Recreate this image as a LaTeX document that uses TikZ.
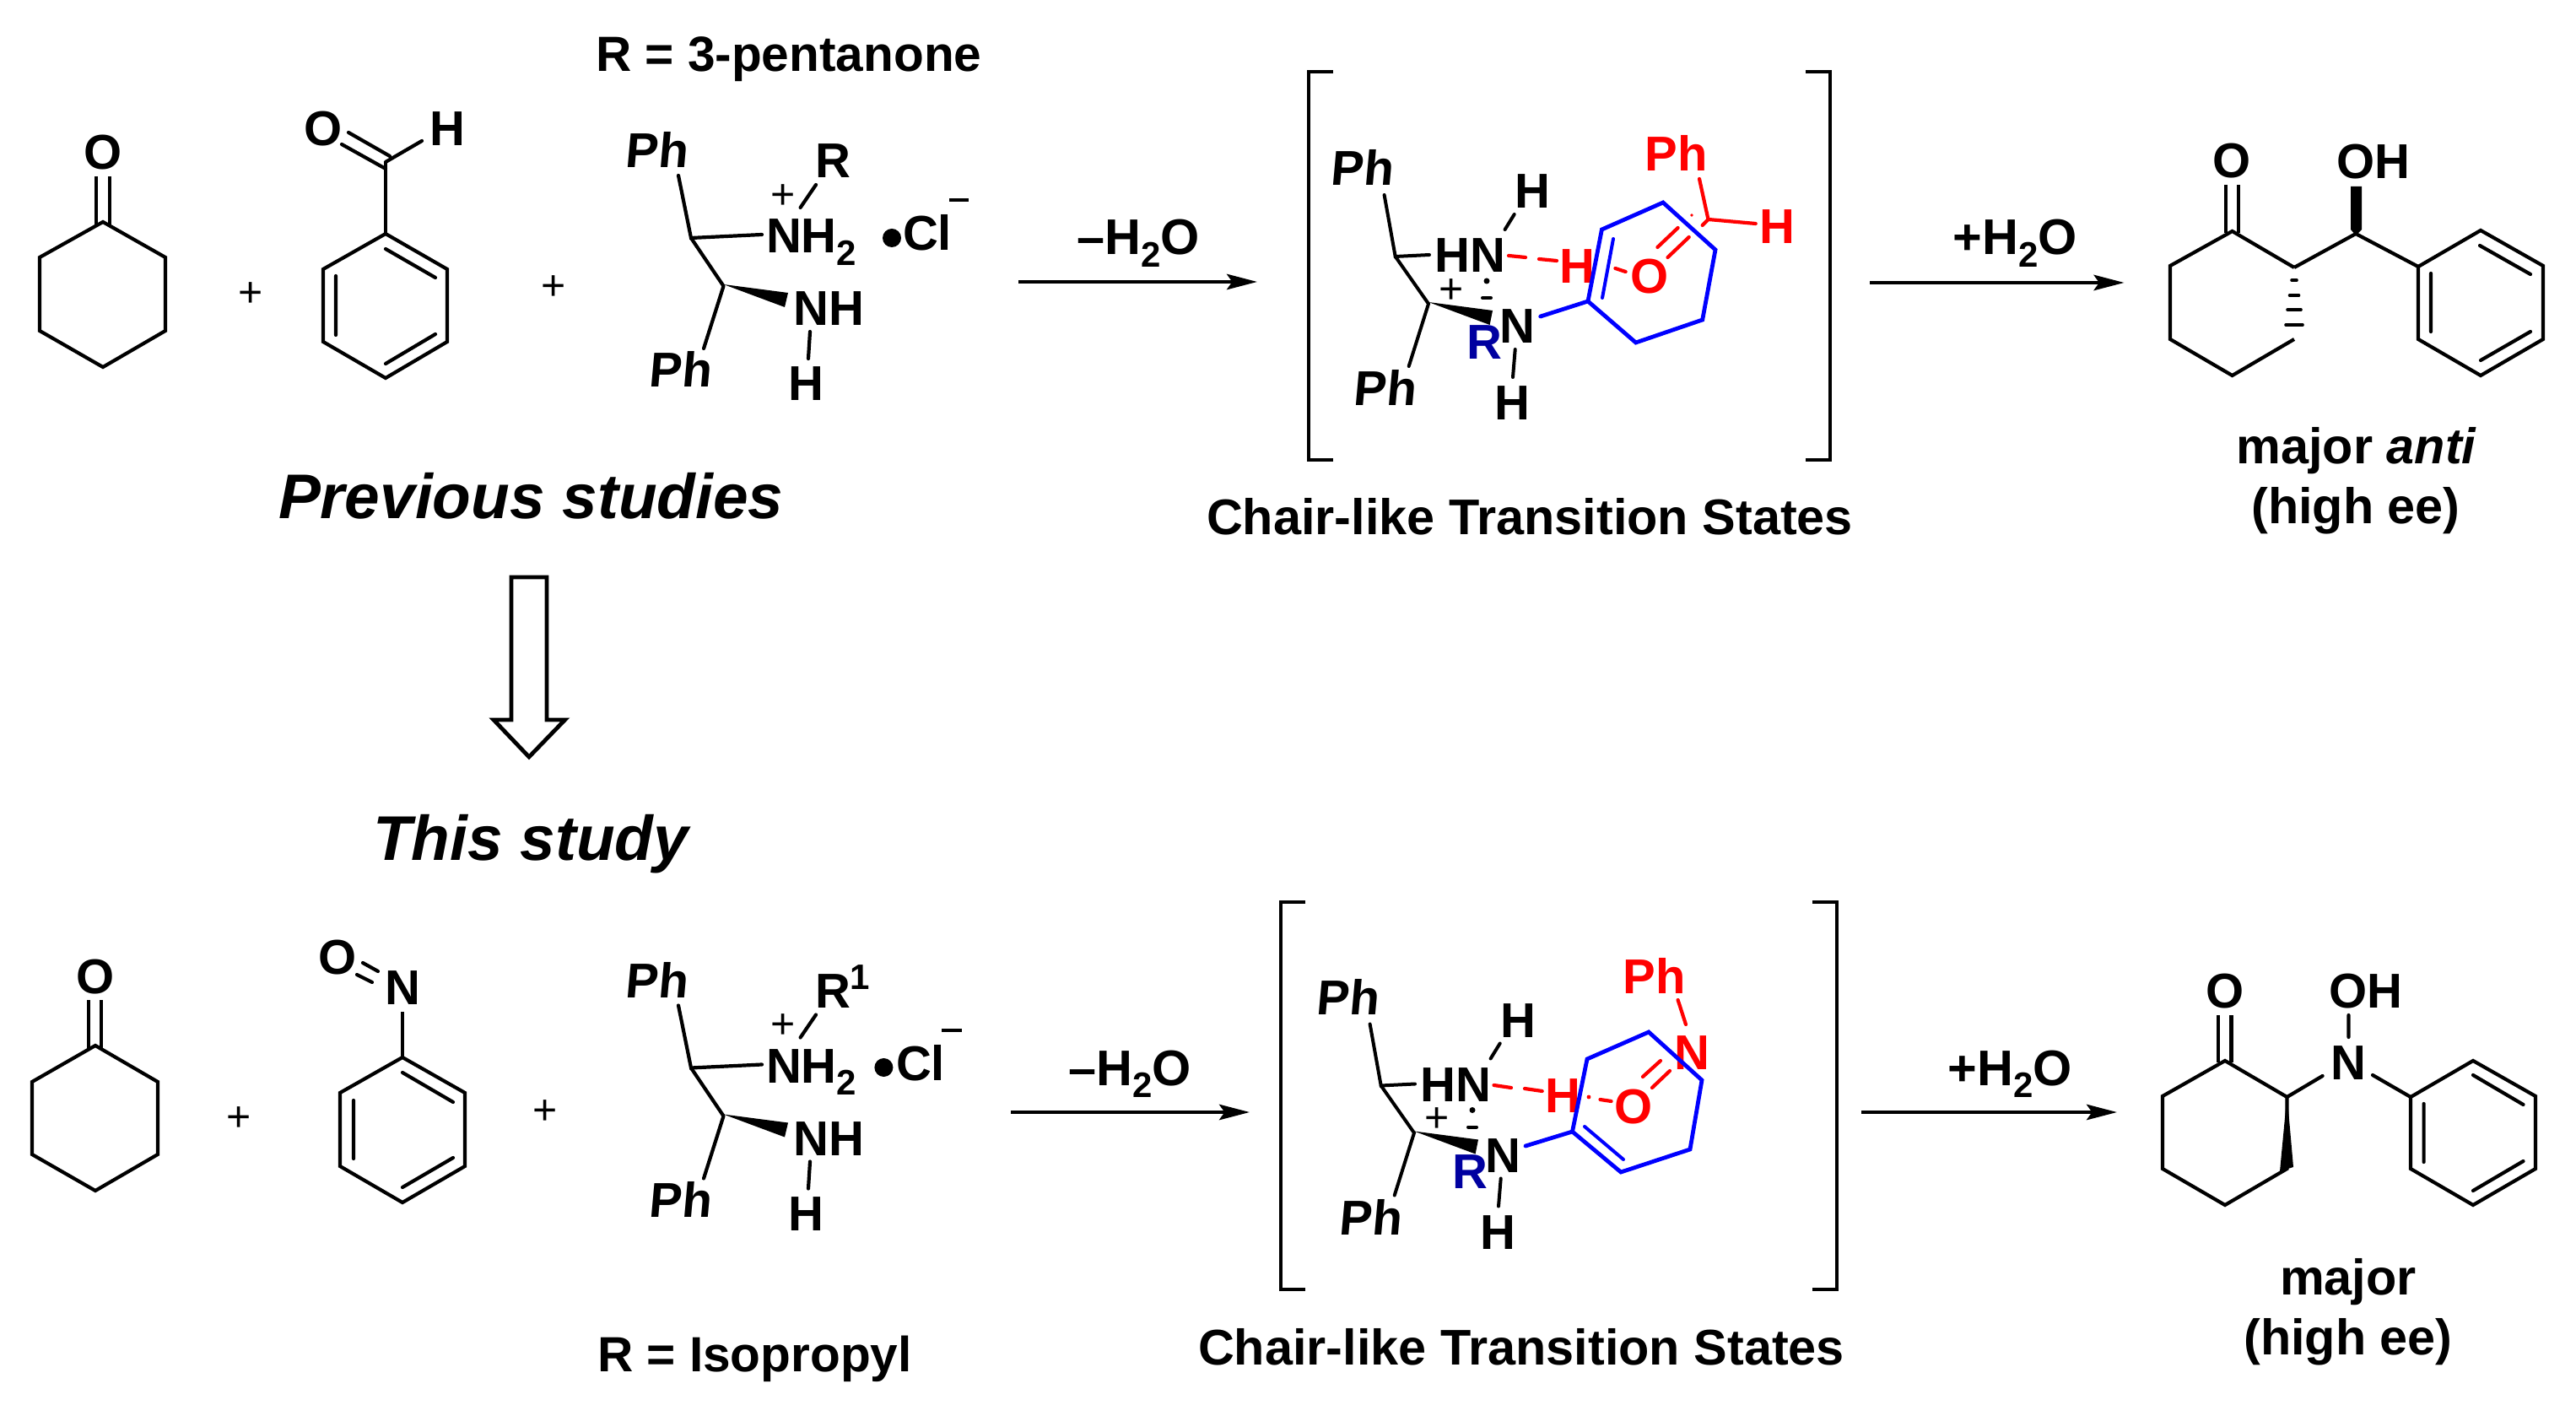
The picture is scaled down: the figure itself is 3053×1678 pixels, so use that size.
\documentclass[tikz,border=0pt]{standalone}
\usepackage{fontspec}
\setmainfont{Liberation Sans}
\newfontfamily\phfam[FakeSlant=0.09]{Liberation Sans}
\usetikzlibrary{arrows.meta}
\newcommand\atomfont{\fontsize{14.5}{16}\selectfont\bfseries}
\newcommand\lblfont{\fontsize{14.85}{16}\selectfont\bfseries}
\newcommand\subtwo{\raisebox{-0.25em}{\fontsize{10.5}{11}\selectfont 2}}
\definecolor{dkblue}{RGB}{0,0,160}
\tikzset{
  every node/.style={inner sep=0pt,outer sep=0pt},
  atom/.style={font=\atomfont,yshift=-0.45pt},
  phatom/.style={font=\phfam\atomfont,yshift=-0.45pt},
  lbl/.style={font=\lblfont,anchor=base},
  defn/.style={font=\fontsize{14.65}{16}\selectfont\bfseries,anchor=base west},
  head/.style={font=\fontsize{18.7}{20}\selectfont\bfseries\itshape,anchor=base},
  pluss/.style={font=\fontsize{12.5}{13}\selectfont},
  bond/.style={line width=1.05pt,line join=miter},
  tsbond/.style={line width=1pt,line join=miter,line cap=round},
  redb/.style={line width=1.05pt,draw=red,line cap=round},
  blueb/.style={line width=1.2pt,draw=blue,line join=miter},
  wedge/.style={fill=black,draw=none},
  brk/.style={line width=0.95pt,line join=miter},
  rxn/.style={line width=1pt,-{Stealth[length=9pt,width=4.6pt,inset=1.6pt]}},
  hollow/.style={line width=1.2pt,fill=white,line join=miter},
}
% the diamine salt drawn by both schemes
\newcommand\amine{
  \node[phatom] (ph1) at (778,176) {Ph};
  \node[phatom] (ph2) at (806,436) {Ph};
  \draw[bond,line cap=round] (804,208) -- (819,282) -- (903,278);
  \draw[bond] (819,282) -- (857.5,339);
  \draw[bond,line cap=round] (857.5,339) -- (834,413);
  \fill[wedge] (857.5,337) -- (934,347) -- (930,364) -- cycle;
  \node[atom] (nh) at (982.5,364) {NH};
  \node[atom] (h) at (955,453) {H};
  \draw[bond,line cap=round] (960,393) -- (958,425);
  \node[atom,anchor=base west] (nhh) at (908,298) {NH\subtwo};
  \node[atom] (r) at (987,189) {R};
  \draw[bond,line cap=round] (967,219) -- (948.6,246);
  \node[pluss] (p) at (928,233) {+};
}
% black part of the transition state
\newcommand\tsblack{
  \node[phatom] (ph1) at (1614,197) {Ph};
  \node[phatom] (ph2) at (1640.6,458) {Ph};
  \draw[tsbond] (1640.6,231) -- (1653.7,304) -- (1694,302);
  \draw[tsbond] (1653.7,304) -- (1693,360) -- (1669.7,434);
  \node[atom] (hn) at (1742,301) {HN};
  \node[atom] (h1) at (1816.5,225) {H};
  \draw[tsbond] (1794.7,254) -- (1783.6,272);
  \node[pluss] (p) at (1720.5,345) {+};
  \fill (1762,333) circle (3.5);
  \draw[line width=1pt,line cap=round] (1757,353) -- (1767,353);
  \fill[wedge] (1693,358) -- (1769,368) -- (1765.6,385) -- cycle;
  \node[atom] (n) at (1798,385) {N};
  \node[atom,text=dkblue] (rb) at (1759,404) {R};
  \draw[tsbond] (1795.7,414) -- (1793,447);
  \node[atom] (h2) at (1792,476) {H};
}
\begin{document}
\begin{tikzpicture}[x=0.25pt,y=-0.25pt]
\useasboundingbox (0,0) rectangle (3053,1678);

% ---------- upper scheme: reactants
\draw[bond] (122,263) -- (196,305) -- (196,392) -- (122,435) -- (47,392) -- (47,305) -- cycle;
\draw[bond] (114,209) -- (114,267) (130,209) -- (130,267);
\node[atom] (o1) at (122,179) {O};
\node[pluss] (plus1) at (297,349) {+};
\draw[bond] (457,277) -- (530,319) -- (530,405) -- (457,448) -- (383,405) -- (383,319) -- cycle;
\draw[bond,line cap=round] (457,295) -- (516,329) (398,327) -- (398,397) (457,431) -- (516,396);
\draw[bond] (457,277) -- (457,192);
\draw[bond,line cap=round] (413,157) -- (462,185) (405,171) -- (457,200) (457,192) -- (500,167);
\node[atom] (o2) at (383,151) {O};
\node[atom] (h3) at (530,151) {H};
\node[pluss] (plus2) at (656,341) {+};
\node[defn] (rdef) at (706,85) {R = 3-pentanone};
\begin{scope}[name prefix=u-]
  \amine
\end{scope}
\fill (1057,282) circle (11);
\node[atom,anchor=base west] (cl1) at (1070,295) {Cl};
\draw[line width=1pt] (1125,237) -- (1148,237);

\coordinate (a1s) at (1207,334);
\coordinate (a1e) at (1490,334);
\draw[rxn] (a1s) -- (a1e);
\node[lbl] (w1) at (1349,302) {–H\subtwo O};

% ---------- upper transition state
\draw[brk] (1580,85) -- (1551,85) -- (1551,545) -- (1580,545);
\draw[brk] (2140,85) -- (2169,85) -- (2169,545) -- (2140,545);
\begin{scope}[name prefix=ts1-]
  \tsblack
\end{scope}
\node[atom,text=red] (th1) at (1869,314) {H};
\node[atom,text=red] (to1) at (1954.7,326) {O};
\node[atom,text=red] (tp1) at (1987,180) {Ph};
\node[atom,text=red] (th2) at (2106,267) {H};
\draw[redb] (1788,303) -- (1808,305) (1824,307) -- (1845,309) (1914.4,318) -- (1926.6,322);
\draw[redb] (2014,212) -- (2024.5,260) -- (2080.7,265) (2024.5,260) -- (2017.7,267);
\draw[redb] (1988.6,270) -- (1964.4,293) (2001.7,281) -- (1976.5,305);
\fill[red] (2005,255) circle (1.8);
\draw[blueb,line cap=round] (1825.7,375) -- (1882,357);
\draw[blueb] (1882,357) -- (1898.4,272) -- (1971,240) -- (2033,296) -- (2017.7,379) -- (1938.7,406) -- cycle;
\draw[blueb,line width=1pt,line cap=round] (1912,283) -- (1899,353);

% ---------- upper product
\coordinate (a2s) at (2216,335);
\coordinate (a2e) at (2517.5,335);
\draw[rxn] (a2s) -- (a2e);
\node[lbl] (w2) at (2388,302) {+H\subtwo O};
\draw[bond] (2719,317) -- (2645.6,274) -- (2572,315) -- (2572,402) -- (2645.6,445) -- (2719,402);
\draw[bond] (2638,219) -- (2638,276) (2653,219) -- (2653,276);
\node[atom] (o3) at (2644.6,189) {O};
\node[atom] (oh1) at (2813,190) {OH};
\fill[wedge] (2786,221) -- (2799,221) -- (2799,272) -- (2792,279) -- (2786,272) -- cycle;
\draw[bond] (2719,317) -- (2792,277) -- (2866,316);
\draw[line width=0.9pt,line cap=round] (2716,332) -- (2722,332) (2713.5,350) -- (2724.5,350) (2711,367) -- (2727,367) (2709,385) -- (2729,385);
\draw[bond] (2866,316) -- (2940,273) -- (3014,315) -- (3014,402) -- (2940,445) -- (2866,402) -- cycle;
\draw[bond,line cap=round] (2939,291) -- (2999,325) (2881,324) -- (2881,393) (2940,427) -- (2999,393);
\node[lbl] (maj1) at (2793,550) {major \textit{anti}};
\node[lbl] (ee1) at (2792,621) {(high ee)};
\node[lbl] (chair1) at (1813,634) {Chair-like Transition States};

% ---------- headings and hollow arrow
\node[head,anchor=base west] (prev) at (330,615) {Previous studies};
\draw[hollow] (606,684) -- (648,684) -- (648,853) -- (669.6,853) -- (627,897) -- (585,853) -- (606,853) -- cycle;
\node[head,anchor=base west] (this) at (442,1019) {This study};

% ---------- lower scheme: reactants
\draw[bond] (113,1239) -- (187,1282) -- (187,1368) -- (113,1411) -- (38,1368) -- (38,1282) -- cycle;
\draw[bond] (105,1185) -- (105,1243) (120,1185) -- (120,1243);
\node[atom] (o4) at (113,1156) {O};
\node[pluss] (plus3) at (283,1326) {+};
\draw[bond] (477,1253) -- (551,1295) -- (551,1382) -- (477,1425) -- (403,1382) -- (403,1295) -- cycle;
\draw[bond,line cap=round] (477,1271) -- (537,1306) (419,1304) -- (419,1373) (477,1407) -- (537,1372);
\draw[bond] (477,1253) -- (477,1199);
\node[atom] (n1) at (477,1169) {N};
\node[atom] (o5) at (400,1133) {O};
\draw[bond,line cap=round] (430,1141) -- (448,1151) (423,1155) -- (441,1164);
\node[pluss] (plus4) at (646.5,1318) {+};
\begin{scope}[shift={(0,983.5)},name prefix=l-]
  \amine
\end{scope}
\node[font=\fontsize{10.5}{11}\selectfont\bfseries] (sup1) at (1019,1158) {1};
\fill (1047.4,1265) circle (11);
\node[atom,anchor=base west] (cl2) at (1062,1278.5) {Cl};
\draw[line width=1pt] (1116,1220.5) -- (1140,1220.5);
\node[defn] (rdef2) at (708,1625) {R = Isopropyl};

\coordinate (a3s) at (1198,1318);
\coordinate (a3e) at (1481,1318);
\draw[rxn] (a3s) -- (a3e);
\node[lbl] (w3) at (1339,1286) {–H\subtwo O};

% ---------- lower transition state
\draw[brk] (1547,1069) -- (1518,1069) -- (1518,1528) -- (1547,1528);
\draw[brk] (2148,1069) -- (2177,1069) -- (2177,1528) -- (2148,1528);
\begin{scope}[shift={(-17,982.5)},name prefix=ts2-]
  \tsblack
\end{scope}
\node[atom,text=red] (th3) at (1852.4,1297) {H};
\node[atom,text=red] (to2) at (1936,1310) {O};
\node[atom,text=red] (tn2) at (2005,1246) {N};
\node[atom,text=red] (tp2) at (1960.5,1155) {Ph};
\draw[redb] (1770.5,1286) -- (1791,1289) (1807,1290) -- (1827.7,1293) (1896.5,1303) -- (1909.6,1305);
\fill[red] (1883,1300) circle (2.4);
\draw[redb] (1988.6,1185) -- (1998,1214);
\draw[redb] (1968,1257) -- (1947,1276) (1979,1269) -- (1958,1289);
\draw[blueb,line cap=round] (1808,1358) -- (1863.5,1341);
\draw[blueb] (1863.5,1341) -- (1881,1255) -- (1954,1223) -- (2017,1280) -- (2003,1362) -- (1921,1389) -- cycle;
\draw[blueb,line width=1pt,line cap=round] (1878,1335) -- (1924,1374);
\node[lbl] (chair2) at (1803,1617) {Chair-like Transition States};

% ---------- lower product
\coordinate (a4s) at (2206,1318);
\coordinate (a4e) at (2509,1318);
\draw[rxn] (a4s) -- (a4e);
\node[lbl] (w4) at (2382,1286) {+H\subtwo O};
\draw[bond] (2637,1257) -- (2710.5,1300) -- (2710.5,1385) -- (2637,1428) -- (2563,1385) -- (2563,1299) -- cycle;
\fill[wedge] (2710.5,1298) -- (2718,1383) -- (2702,1388) -- cycle;
\draw[bond] (2629,1203) -- (2629,1259) (2644.5,1203) -- (2644.5,1259);
\node[atom] (o6) at (2637,1173) {O};
\node[atom] (oh2) at (2804,1173) {OH};
\node[atom] (n2) at (2783.5,1258) {N};
\draw[bond,line cap=round] (2783.5,1203) -- (2783.5,1229) (2710.5,1300) -- (2752.6,1275) (2812,1274) -- (2857,1300);
\draw[bond] (2857,1300) -- (2931,1257) -- (3005,1299) -- (3005,1385) -- (2931,1428) -- (2857,1385) -- cycle;
\draw[bond,line cap=round] (2931,1274) -- (2990.5,1309) (2872.6,1308) -- (2872.6,1377) (2931,1411) -- (2990.5,1376);
\node[lbl] (maj2) at (2783,1534) {major};
\node[lbl] (ee2) at (2783,1605) {(high ee)};
\end{tikzpicture}
\end{document}
